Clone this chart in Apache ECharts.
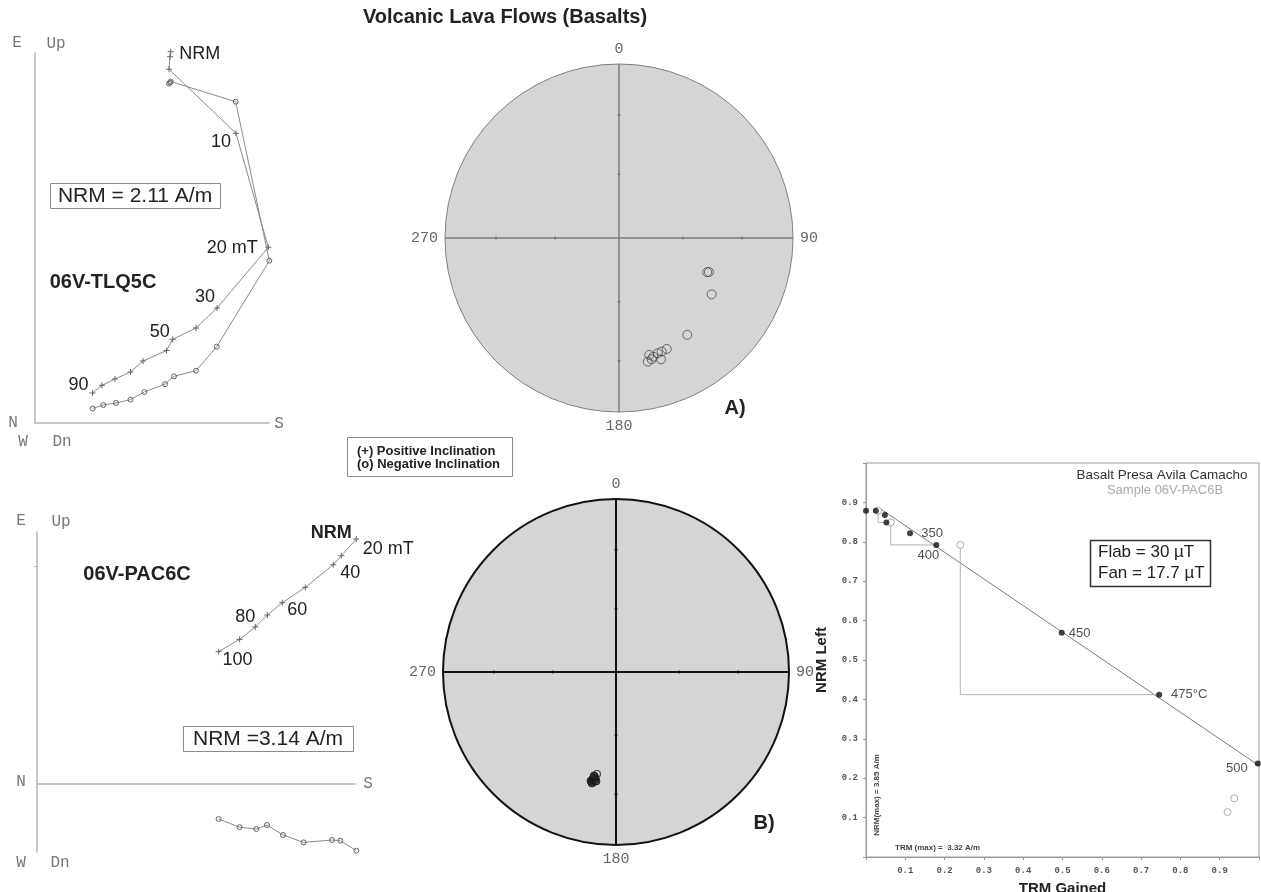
<!DOCTYPE html>
<html>
<head>
<meta charset="utf-8">
<script src="https://cdn.jsdelivr.net/npm/echarts@6/dist/echarts.min.js"></script>
<style>
  html, body { margin: 0; padding: 0; background: #fff; }
  #main { width: 1261px; height: 892px; }
</style>
</head>
<body>
<div id="main"></div>
<script>
// ---------------- data ----------------
const figureTitle = 'Volcanic Lava Flows (Basalts)';

// Orthogonal demagnetisation diagram, sample 06V-TLQ5C (arbitrary units)
const zijA_steps  = ['NRM', '', '', '10', '20 mT', '30', '', '50', '', '', '', '', '', '90'];
const zijA_crossX = [1.357, 1.350, 1.340, 2.010, 2.333, 1.820, 1.610, 1.377, 1.315, 1.080, 0.955, 0.800, 0.670, 0.575];
const zijA_crossY = [3.713, 3.663, 3.537, 2.897, 1.757, 1.150, 0.950, 0.837, 0.725, 0.620, 0.510, 0.440, 0.377, 0.300];
const zijA_circX  = [1.357, 1.350, 1.340, 2.007, 2.343, 1.817, 1.610, 1.390, 1.300, 1.094, 0.955, 0.810, 0.683, 0.577];
const zijA_circY  = [3.415, 3.405, 3.395, 3.213, 1.623, 0.763, 0.523, 0.467, 0.388, 0.310, 0.234, 0.200, 0.180, 0.145];

// Orthogonal demagnetisation diagram, sample 06V-PAC6C
const zijB_steps  = ['NRM', '20 mT', '40', '', '60', '', '80', '', '100'];
const zijB_crossX = [3.193, 3.043, 2.963, 2.683, 2.453, 2.303, 2.183, 2.026, 1.816];
const zijB_crossY = [2.450, 2.283, 2.193, 1.966, 1.813, 1.690, 1.571, 1.446, 1.323];
const zijB_circX  = [3.193, 3.033, 2.950, 2.666, 2.460, 2.300, 2.193, 2.026, 1.816];
const zijB_circY  = [-0.667, -0.567, -0.560, -0.584, -0.510, -0.410, -0.450, -0.432, -0.350];
const zijB_ticks  = [2.18];

// Equal-area stereonets: declination / inclination (degrees)
const netA_dec = [111.2, 110.7, 121.3, 144.8, 156.7, 159.4, 160.9, 163.9, 165.5, 166.9, 164.9, 161.4];
const netA_inc = [-44.8, -44.0, -37.7, -32.4, -31.2, -30.9, -27.1, -29.7, -31.2, -27.9, -28.6, -30.8];
const netB_dec = [192.9, 192.1, 191.2, 192.2, 190.4, 191.9, 190.6];
const netB_inc = [35.6, 36.9, 37.5, 34.7, 36.1, 38.5, -39.8];
const netTickInc = [30, 60];
const netDirLabels = [0, 90, 180, 270];

// Arai plot, sample 06V-PAC6B
const araiSteps = ['', '', '', '', '350', '400', '450', '475°C', '500'];
const araiTRM   = [0.000, 0.025, 0.048, 0.052, 0.112, 0.179, 0.498, 0.746, 0.997];
const araiNRM   = [0.879, 0.879, 0.868, 0.849, 0.822, 0.792, 0.569, 0.412, 0.237];
const checkTRM  = [0.031, 0.063, 0.240, 0.937, 0.920];
const checkNRM  = [0.879, 0.849, 0.792, 0.149, 0.114];
const checkRef  = [3, 5, 7, -1, -1];
const fitTRM    = [0.035, 1.0];
const fitNRM    = [0.885, 0.232];

// ---------------- styling ----------------
const SANS = '"Liberation Sans", Arial, Helvetica, sans-serif';
const MONO = '"Liberation Mono", "DejaVu Sans Mono", monospace';
const CROSS = 'path://M0,5L10,5M5,0L5,10';

const offsetsA = { 'NRM': [29, 2], '10': [-15, 9], '20 mT': [-36, 1], '30': [-12, -11], '50': [-13, -7], '90': [-14, -8] };
const offsetsB = { 'NRM': [-25, -6], '20 mT': [47, -7], '40': [17, 8], '60': [15, 7], '80': [-10, -10], '100': [19, 8] };
const offsetsArai = { '350': [22, 0], '400': [-8, 10], '450': [18, 1], '475°C': [30, 0], '500': [-21, 5] };

// equal-area (Schmidt) projection of an inclination onto the unit net
function eqArea(inc) {
  return Math.SQRT2 * Math.sin((90 - Math.abs(inc)) / 2 * Math.PI / 180);
}

function labelledData(xs, ys, steps, offsets, boldSteps) {
  return xs.map((x, i) => {
    const item = { value: [x, ys[i]] };
    const s = steps ? steps[i] : '';
    if (s) {
      item.label = {
        show: true,
        formatter: s,
        offset: offsets[s],
        fontWeight: boldSteps && boldSteps.indexOf(s) >= 0 ? 'bold' : 'normal'
      };
    }
    return item;
  });
}

function zijSeries(gi, xs, ys, steps, offsets, symbol, boldSteps) {
  const isCross = symbol === 'cross';
  return {
    type: 'line',
    xAxisIndex: gi, yAxisIndex: gi,
    clip: false,
    data: labelledData(xs, ys, steps, offsets, boldSteps),
    symbol: isCross ? CROSS : 'circle',
    symbolSize: isCross ? 6 : 5,
    showAllSymbol: true,
    lineStyle: { color: '#8a8a8a', width: 1 },
    itemStyle: { color: 'transparent', borderColor: '#666', borderWidth: 1 },
    label: { show: false, position: 'inside', fontFamily: SANS, fontSize: 18, color: '#222' },
    emphasis: { disabled: true },
    animation: false,
    z: 3
  };
}

function netPoints(decs, incs, wantPositive) {
  const out = [];
  decs.forEach((d, i) => {
    if ((incs[i] >= 0) === wantPositive) out.push([eqArea(incs[i]), d]);
  });
  return out;
}

// N-S and E-W diameters of a net, drawn through the centre
function netCross(pi, color, width) {
  return [[0, 180], [90, 270]].map(pair => ({
    type: 'line', coordinateSystem: 'polar', polarIndex: pi,
    data: [[1, pair[0]], [0, pair[0]], [1, pair[1]]],
    symbol: 'none', lineStyle: { color: color, width: width },
    silent: true, animation: false, z: 2
  }));
}

function netTicks(pi, color, size) {
  const data = [];
  netDirLabels.forEach(a => {
    netTickInc.forEach(inc => {
      data.push({ value: [eqArea(inc), a], symbolRotate: a });
    });
  });
  return {
    type: 'scatter', coordinateSystem: 'polar', polarIndex: pi,
    data: data, symbol: 'rect', symbolSize: size,
    itemStyle: { color: color }, silent: true, animation: false, z: 3
  };
}

function angleAxis(pi, lineColor, lineWidth) {
  return {
    polarIndex: pi, type: 'value', min: 0, max: 360, interval: 90,
    startAngle: 90, clockwise: true,
    axisLine: { show: true, lineStyle: { color: lineColor, width: lineWidth } },
    axisTick: { show: false },
    axisLabel: {
      show: true, margin: 7, color: '#666', fontFamily: MONO, fontSize: 15,
      formatter: v => (v >= 360 ? '' : String(v))
    },
    splitLine: { show: false },
    splitArea: { show: true, areaStyle: { color: ['#d5d5d5'] } }
  };
}

function radiusAxis(pi) {
  return {
    polarIndex: pi, type: 'value', min: 0, max: 1,
    axisLine: { show: false }, axisTick: { show: false },
    axisLabel: { show: false }, splitLine: { show: false }, splitArea: { show: false }
  };
}

function plainAxis(gi, min, max, extra) {
  return Object.assign({
    gridIndex: gi, type: 'value', min: min, max: max,
    axisLine: { show: true, onZero: true, lineStyle: { color: '#b5b5b5', width: 1.5 } },
    axisTick: { show: false }, axisLabel: { show: false }, splitLine: { show: false }
  }, extra || {});
}

function txt(x, y, text, font, fill, align, extra) {
  return Object.assign({
    type: 'text', x: x, y: y, silent: true,
    style: { text: text, font: font, fill: fill || '#222', align: align || 'center', verticalAlign: 'middle' }
  }, extra || {});
}

function box(x, y, w, h, stroke, lw) {
  return {
    type: 'rect', silent: true,
    shape: { x: x, y: y, width: w, height: h },
    style: { fill: '#fff', stroke: stroke, lineWidth: lw || 1 }
  };
}

// ---------------- Arai helpers ----------------
const araiLabelFmt = v => (v > 0.001 && v < 0.999 ? v.toFixed(1) : '');
function araiAxis(isX) {
  return {
    gridIndex: 2, type: 'value', min: 0, max: 1, interval: 0.1,
    name: isX ? 'TRM Gained' : 'NRM Left',
    nameLocation: 'middle', nameGap: isX ? 24 : 37,
    nameTextStyle: { fontFamily: SANS, fontSize: 15, fontWeight: 'bold', color: '#222' },
    axisLine: { show: true, lineStyle: { color: '#9a9a9a', width: 1 } },
    axisTick: { show: true, length: 3, lineStyle: { color: '#9a9a9a' } },
    axisLabel: {
      show: true, margin: isX ? 9 : 8, color: '#555', fontFamily: MONO,
      fontSize: 9, fontWeight: 'bold', formatter: araiLabelFmt
    },
    splitLine: { show: false }
  };
}

const checkLines = [];
checkTRM.forEach((cx, i) => {
  const r = checkRef[i];
  if (r < 0) return;
  checkLines.push({
    type: 'line', xAxisIndex: 2, yAxisIndex: 2, clip: false,
    data: [[cx, checkNRM[i]], [cx, araiNRM[r]], [araiTRM[r], araiNRM[r]]],
    symbol: 'none', lineStyle: { color: '#b3b3b3', width: 1 },
    silent: true, animation: false, z: 1
  });
});

// ---------------- chart ----------------
const chart = echarts.init(document.getElementById('main'), null, { width: 1261, height: 892 });

const option = {
  backgroundColor: '#fff',
  animation: false,
  grid: [
    { left: 35, top: 53, width: 234, height: 370, outerBoundsMode: 'none' },
    { left: 37, top: 532, width: 318, height: 320, outerBoundsMode: 'none' },
    { left: 866, top: 463, width: 393, height: 394, outerBoundsMode: 'none',
      show: true, borderColor: '#9a9a9a', borderWidth: 1, backgroundColor: 'transparent' }
  ],
  xAxis: [
    plainAxis(0, 0, 2.34),
    plainAxis(1, 0, 3.18),
    araiAxis(true)
  ],
  yAxis: [
    plainAxis(0, 0, 3.70),
    plainAxis(1, -0.68, 2.52, {
      axisTick: { show: true, length: 3, customValues: zijB_ticks, lineStyle: { color: '#b5b5b5' } }
    }),
    araiAxis(false)
  ],
  polar: [
    { center: [619, 238], radius: 174 },
    { center: [616, 672], radius: 173 }
  ],
  angleAxis: [
    angleAxis(0, '#808080', 1),
    angleAxis(1, '#111', 2)
  ],
  radiusAxis: [radiusAxis(0), radiusAxis(1)],
  series: [
    // demagnetisation diagrams
    zijSeries(0, zijA_crossX, zijA_crossY, zijA_steps, offsetsA, 'cross'),
    zijSeries(0, zijA_circX, zijA_circY, null, offsetsA, 'circle'),
    zijSeries(1, zijB_crossX, zijB_crossY, zijB_steps, offsetsB, 'cross', ['NRM']),
    zijSeries(1, zijB_circX, zijB_circY, null, offsetsB, 'circle'),

    // stereonet A
    ...netCross(0, '#7c7c7c', 1.5),
    netTicks(0, '#6a6a6a', [3, 1.5]),
    {
      type: 'scatter', coordinateSystem: 'polar', polarIndex: 0,
      data: netPoints(netA_dec, netA_inc, false),
      symbol: 'circle', symbolSize: 9,
      itemStyle: { color: 'transparent', borderColor: '#4a4a4a', borderWidth: 1 },
      animation: false, z: 4
    },
    // stereonet B
    ...netCross(1, '#111', 2),
    netTicks(1, '#111', [3, 2]),
    {
      type: 'scatter', coordinateSystem: 'polar', polarIndex: 1,
      data: netPoints(netB_dec, netB_inc, true),
      symbol: 'circle', symbolSize: 8,
      itemStyle: { color: '#222', borderColor: '#111', borderWidth: 1 },
      animation: false, z: 4
    },
    {
      type: 'scatter', coordinateSystem: 'polar', polarIndex: 1,
      data: netPoints(netB_dec, netB_inc, false),
      symbol: 'circle', symbolSize: 7,
      itemStyle: { color: 'transparent', borderColor: '#222', borderWidth: 1.2 },
      animation: false, z: 5
    },

    // Arai plot
    {
      type: 'line', xAxisIndex: 2, yAxisIndex: 2, clip: false,
      data: fitTRM.map((x, i) => [x, fitNRM[i]]),
      symbol: 'none', lineStyle: { color: '#7a7a7a', width: 1 },
      silent: true, animation: false, z: 1
    },
    ...checkLines,
    {
      type: 'scatter', xAxisIndex: 2, yAxisIndex: 2, clip: false,
      data: checkTRM.map((x, i) => [x, checkNRM[i]]),
      symbol: 'circle', symbolSize: 7,
      itemStyle: { color: '#fff', borderColor: '#999', borderWidth: 1 },
      animation: false, z: 3
    },
    {
      type: 'scatter', xAxisIndex: 2, yAxisIndex: 2, clip: false,
      data: labelledData(araiTRM, araiNRM, araiSteps, offsetsArai),
      symbol: 'circle', symbolSize: 6,
      itemStyle: { color: '#111' },
      label: { show: false, position: 'inside', fontFamily: SANS, fontSize: 13, color: '#222' },
      animation: false, z: 4
    }
  ],
  graphic: [
    txt(505, 17, figureTitle, 'bold 20px ' + SANS, '#222'),

    // demagnetisation diagram A annotations
    txt(17, 43, 'E', '16px ' + MONO, '#777'),
    txt(56, 44, 'Up', '16px ' + MONO, '#777'),
    txt(13, 423, 'N', '16px ' + MONO, '#777'),
    txt(279, 424, 'S', '16px ' + MONO, '#777'),
    txt(23, 442, 'W', '16px ' + MONO, '#777'),
    txt(62, 442, 'Dn', '16px ' + MONO, '#777'),
    box(50.5, 183.5, 170, 25, '#8a8a8a', 1),
    txt(135, 196, 'NRM = 2.11 A/m', '21px ' + SANS, '#222'),
    txt(103, 282, '06V-TLQ5C', 'bold 20px ' + SANS, '#222'),

    // demagnetisation diagram B annotations
    txt(21, 521, 'E', '16px ' + MONO, '#777'),
    txt(61, 522, 'Up', '16px ' + MONO, '#777'),
    txt(21, 782, 'N', '16px ' + MONO, '#777'),
    txt(368, 784, 'S', '16px ' + MONO, '#777'),
    txt(21, 863, 'W', '16px ' + MONO, '#777'),
    txt(60, 863, 'Dn', '16px ' + MONO, '#777'),
    box(183.5, 726.5, 170, 25, '#8a8a8a', 1),
    txt(268, 739, 'NRM =3.14 A/m', '21px ' + SANS, '#222'),
    txt(137, 574, '06V-PAC6C', 'bold 20px ' + SANS, '#222'),

    // stereonet legend and panel letters
    box(347.5, 437.5, 165, 39, '#8a8a8a', 1),
    txt(357, 451, '(+) Positive Inclination', 'bold 13px ' + SANS, '#222', 'left'),
    txt(357, 464, '(o) Negative Inclination', 'bold 13px ' + SANS, '#222', 'left'),
    txt(735, 408, 'A)', 'bold 20px ' + SANS, '#222'),
    txt(764, 823, 'B)', 'bold 20px ' + SANS, '#222'),

    // Arai plot annotations
    txt(1162, 475, 'Basalt Presa Avila Camacho', '13.5px ' + SANS, '#333'),
    txt(1165, 490, 'Sample 06V-PAC6B', '13px ' + SANS, '#aaa'),
    box(1090.5, 540.5, 120, 46, '#333', 1.5),
    txt(1098, 552, 'Flab = 30 \u00b5T', '17px ' + SANS, '#222', 'left'),
    txt(1098, 573, 'Fan = 17.7 \u00b5T', '17px ' + SANS, '#222', 'left'),
    txt(895, 848, 'TRM (max) =  3.32 A/m', 'bold 8px ' + SANS, '#444', 'left'),
    txt(877, 795, 'NRM(max) = 3.85 A/m', 'bold 8px ' + SANS, '#444', 'center', { rotation: Math.PI / 2 })
  ]
};

chart.setOption(option);
</script>
</body>
</html>
